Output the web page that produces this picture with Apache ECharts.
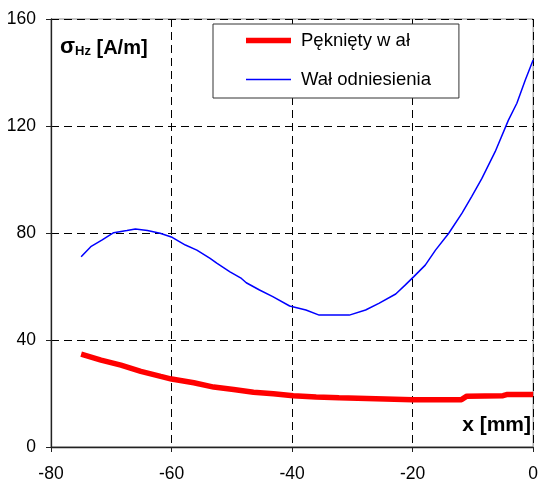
<!DOCTYPE html>
<html>
<head>
<meta charset="utf-8">
<script src="https://cdn.jsdelivr.net/npm/echarts@6/dist/echarts.min.js"></script>
<style>html,body{margin:0;padding:0;background:#fff}#c{width:541px;height:484px}</style>
</head>
<body>
<div id="c"></div>
<script>
var xTicks = [-80, -60, -40, -20, 0];
var yTicks = [0, 40, 80, 120, 160];
var seriesNames = ['Pęknięty w ał', 'Wał odniesienia'];
var crackedX = [-75, -71.7, -68.4, -65.1, -61.8, -60, -56.3, -53, -49.7, -46.4, -43.1, -39.8, -36, -32.2, -31.9, -20, -11.9, -11, -5, -4.4, 0];
var crackedY = [34.7, 32.5, 30.6, 28.3, 26.4, 25.4, 24, 22.4, 21.5, 20.5, 19.9, 19.2, 18.7, 18.4, 17.7, 17.7, 17.7, 19, 19.2, 19.6, 19.6];
var refX = [-75, -73.4, -71.5, -69.6, -67.4, -66, -64, -61.9, -59.9, -57.7, -55.8, -53.6, -52.5, -50.3, -48.4, -47.6, -45.4, -43.2, -40.4, -37.7, -35.5, -30.5, -27.8, -25.6, -22.8, -21.2, -19.8, -17.9, -16.2, -14, -11.8, -10.2, -8.5, -6.3, -4.1, -2.7, -1.3, 0];
var refY = [71.1, 74.9, 77.4, 80.1, 80.9, 81.5, 80.9, 79.9, 78.4, 75.5, 73.6, 70.5, 68.7, 65.5, 63, 61.4, 58.7, 56.2, 52.7, 51.2, 49.3, 49.3, 51.2, 53.7, 57.2, 60.6, 63.7, 68, 73.6, 79.9, 87.4, 93.6, 100.4, 110.4, 122.2, 128.5, 137.2, 144.7];

function pairs(xs, ys) { return xs.map(function (x, i) { return [x, ys[i]]; }); }
var FONT = 'Arial, "Liberation Sans", sans-serif';
var RED = '#ff0000', BLUE = '#0000ff';
var chart = echarts.init(document.getElementById('c'), null, {renderer: 'canvas'});
chart.setOption({
  animation: false,
  backgroundColor: '#fff',
  textStyle: {fontFamily: FONT},
  grid: {left: 51, right: 6, top: 19, bottom: 37, show: true, borderColor: '#888', borderWidth: 1},
  legend: {
    left: 213, top: 24, orient: 'vertical',
    data: [
      {name: seriesNames[0], icon: 'path://M0,0H45V5.5H0Z', itemStyle: {color: RED, opacity: 1}, lineStyle: {color: RED, width: 5.5}},
      {name: seriesNames[1], icon: 'path://M0,0H45V1.5H0Z', itemStyle: {color: BLUE, opacity: 1}, lineStyle: {color: BLUE, width: 1.5}}
    ],
    itemWidth: 45, itemHeight: 14, itemGap: 20,
    padding: [7, 28, 9, 33],
    backgroundColor: '#fff', borderColor: '#333', borderWidth: 1,
    textStyle: {fontSize: 18.5, color: '#000', fontFamily: FONT, padding: [0, 0, 0, 5]}
  },
  xAxis: {
    type: 'value', min: xTicks[0], max: xTicks[xTicks.length - 1], interval: 20,
    axisLine: {show: true, onZero: false, lineStyle: {color: '#222', width: 1.3}},
    axisTick: {show: true, length: 5, lineStyle: {color: '#222'}},
    axisLabel: {fontSize: 17.5, color: '#000', margin: 18, fontFamily: FONT},
    splitLine: {show: true, lineStyle: {color: '#000', type: [8, 5], width: 1}}
  },
  yAxis: {
    type: 'value', min: yTicks[0], max: yTicks[yTicks.length - 1], interval: 40,
    axisLine: {show: true, onZero: false, lineStyle: {color: '#222', width: 1.3}},
    axisTick: {show: true, length: 5, lineStyle: {color: '#222'}},
    axisLabel: {fontSize: 17.5, color: '#000', margin: 15, fontFamily: FONT},
    splitLine: {show: true, lineStyle: {color: '#000', type: [8, 5], width: 1}}
  },
  graphic: [
    {type: 'text', left: 60, top: 36, z: 100, style: {
      rich: {
        s: {fontSize: 22, fontWeight: 'bold', fontFamily: FONT, fill: '#000', verticalAlign: 'bottom', lineHeight: 22},
        h: {fontSize: 13, fontWeight: 'bold', fontFamily: FONT, fill: '#000', verticalAlign: 'bottom', lineHeight: 22},
        u: {fontSize: 20, fontWeight: 'bold', fontFamily: FONT, fill: '#000', verticalAlign: 'bottom', lineHeight: 22}
      },
      text: '{s|σ}{h|Hz}{u| [A/m]}'
    }},
    {type: 'text', right: 10, top: 415, z: 100, style: {
      text: 'x [mm]', fontSize: 21, fontWeight: 'bold', fontFamily: FONT, fill: '#000'
    }}
  ],
  series: [
    {name: seriesNames[0], type: 'line', data: pairs(crackedX, crackedY), symbol: 'none', showSymbol: false,
     lineStyle: {color: RED, width: 5.5}, itemStyle: {color: RED}, z: 3},
    {name: seriesNames[1], type: 'line', data: pairs(refX, refY), symbol: 'none', showSymbol: false,
     lineStyle: {color: BLUE, width: 1.5}, itemStyle: {color: BLUE}, z: 4}
  ]
});
</script>
</body>
</html>
